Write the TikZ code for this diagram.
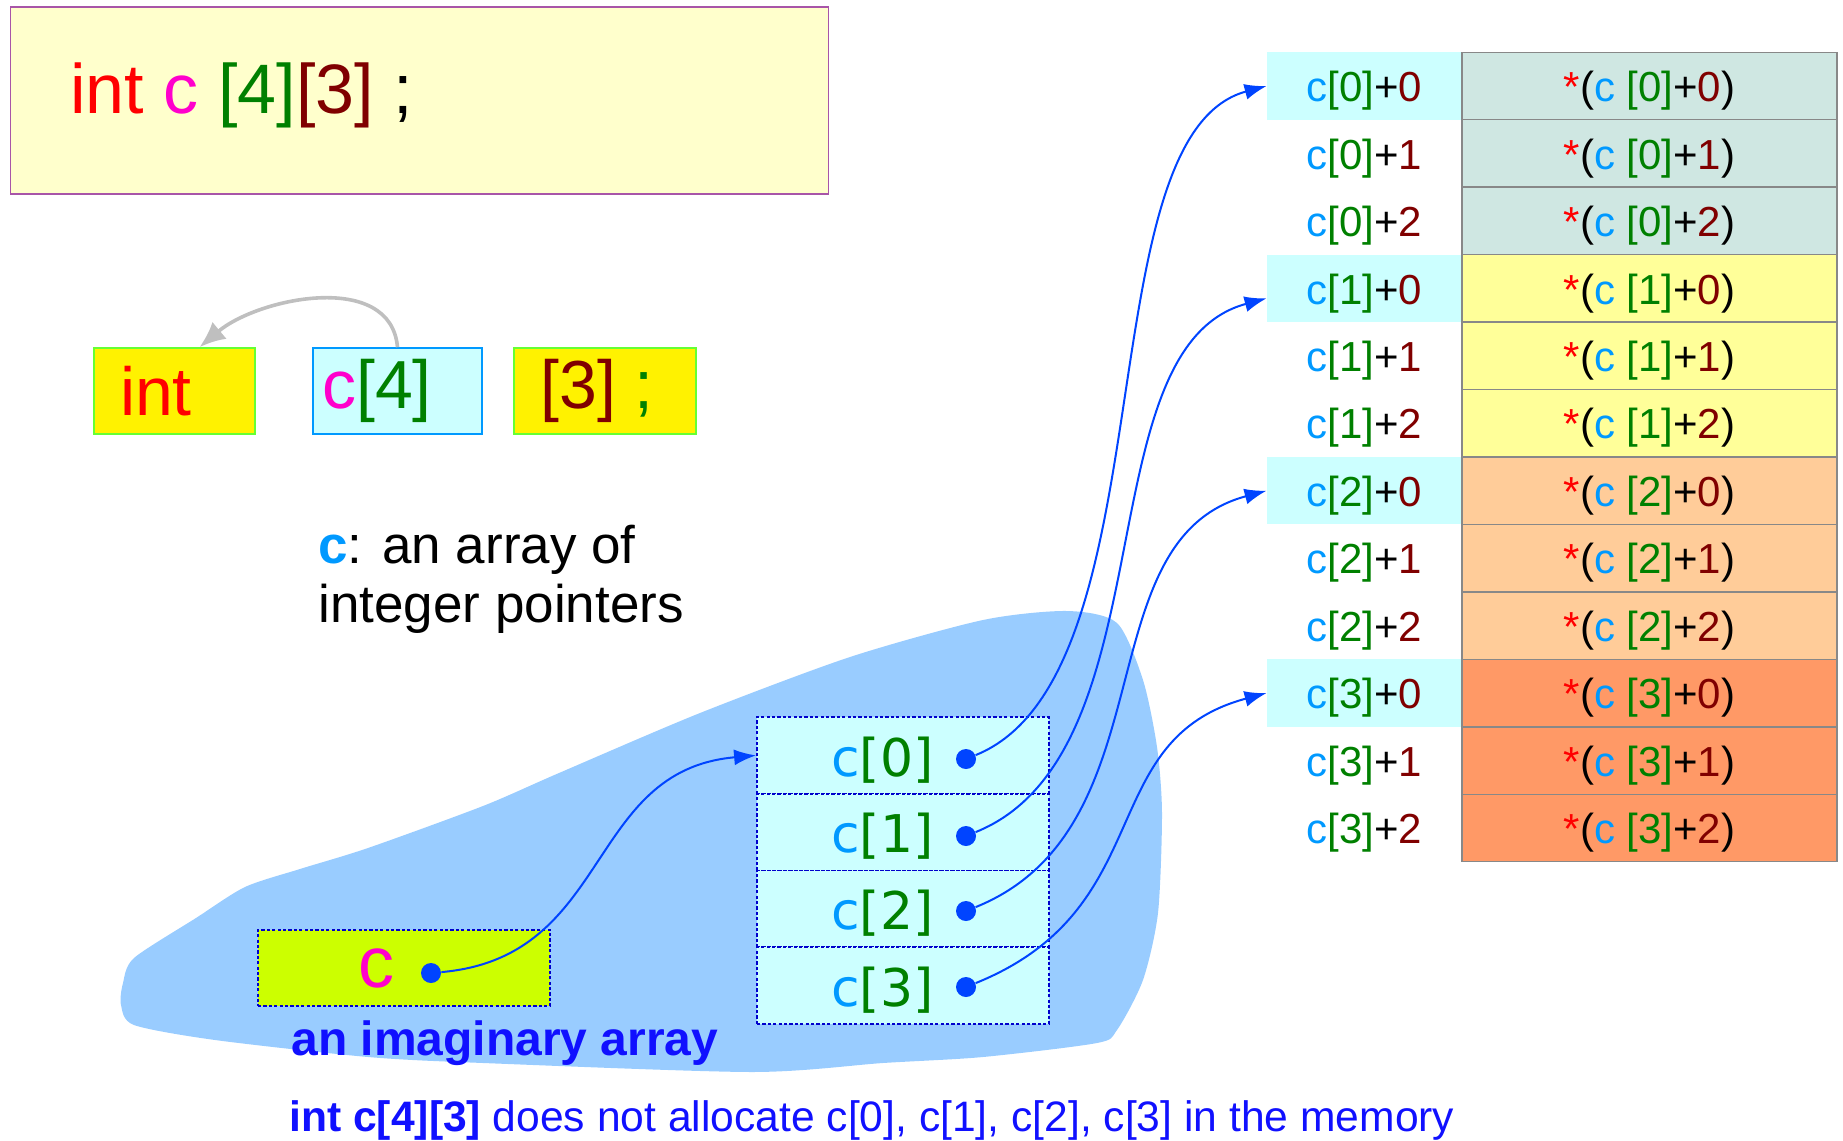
\documentclass[tikz,border=0pt]{standalone}
\usepackage{fontspec}
\setmainfont{Liberation Sans}
\newfontfamily\dejavu{DejaVu Sans}
\usetikzlibrary{arrows.meta}
\definecolor{cblue}{HTML}{0099FF}
\definecolor{cgreen}{HTML}{008000}
\definecolor{cdred}{HTML}{800000}
\definecolor{cred}{HTML}{FF0000}
\definecolor{cmag}{HTML}{FF00CC}
\definecolor{hicyan}{HTML}{CCFFFF}
\definecolor{declfill}{HTML}{FFFFCC}
\definecolor{declline}{HTML}{A855A8}
\definecolor{boxgreen}{HTML}{66FF33}
\definecolor{blobblue}{HTML}{99CCFF}
\definecolor{ptrblue}{HTML}{0044FF}
\definecolor{dotline}{HTML}{0000CC}
\definecolor{cvarfill}{HTML}{CCFF00}
\definecolor{cellgray}{HTML}{888888}
\definecolor{rowA}{HTML}{CFE7E2}
\definecolor{rowB}{HTML}{FFFF99}
\definecolor{rowC}{HTML}{FFCC99}
\definecolor{rowD}{HTML}{FF9966}
\definecolor{noteblue}{HTML}{1010FF}
\newcommand{\addr}[2]{{\color{cblue}c}{\color{cgreen}[#1]}+{\color{cdred}#2}}
\newcommand{\deref}[2]{{\color{cred}*}({\color{cblue}c} {\color{cgreen}[#1]}+{\color{cdred}#2})}
\newcommand{\elem}[1]{{\color{cblue}c}{\color{cgreen}[#1]}\kern20.5pt}

\begin{document}
\begin{tikzpicture}[x=0.5pt, y=-0.5pt,
  declbox/.style = {draw=declline, line width=0.7pt, fill=declfill, minimum width=409pt, minimum height=93.5pt},
  partbox/.style = {line width=0.8pt, minimum height=43pt, inner sep=0pt, font=\fontsize{34}{40}\selectfont},
  elembox/.style = {draw=dotline, line width=0.9pt, dash pattern=on 1.6pt off 1.1pt, fill=hicyan, minimum width=146pt, minimum height=38.4pt, inner sep=0pt, text height=20.6pt, text depth=0pt, font=\dejavu\fontsize{26}{30}\selectfont},
  dot/.style = {circle, fill=ptrblue, minimum size=10pt, inner sep=0pt},
  addr/.style = {minimum width=97.5pt, minimum height=33.7pt, inner sep=0pt, text height=15.7pt, text depth=0pt, font=\fontsize{21}{25}\selectfont},
  val/.style = {draw=cellgray, line width=0.7pt, minimum width=187.5pt, minimum height=33.7pt, inner sep=0pt, text height=15.7pt, text depth=0pt, font=\fontsize{21}{25}\selectfont},
  ptr/.style = {ptrblue, line width=1pt, -{Latex[length=11pt,width=8pt]}}]
\useasboundingbox (0,0) rectangle (1843,1141);
% imaginary array
\fill[blobblue] plot[smooth cycle, tension=0.45] coordinates {(134,958) (196,918) (245,887) (300,869) (368,848) (483,806) (559,773) (700,713) (850,657) (983,620) (1067,611) (1117,623) (1143,680) (1157,747) (1162,813) (1158,913) (1143,980) (1117,1030) (1097,1043) (983,1057) (883,1063) (752,1072) (483,1063) (368,1057) (215,1040) (134,1025) (121,1005) (123,983)};
% declaration
\node[declbox] (decl) at (419.6,100.5) {};
\node[anchor=west, inner sep=0pt, font=\fontsize{35}{42}\selectfont] (decltext) at (70,95) {{\color{cred}int} {\color{cmag}c} {\color{cgreen}[4]}{\color{cdred}[3]} ;};
\node[partbox, draw=boxgreen, fill=yellow, minimum width=80.5pt] (tint) at (174.5,391) {{\color{cred}int}\kern18.5pt};
\node[partbox, draw=cblue, fill=hicyan, minimum width=84.5pt] (tcfour) at (397.5,391) {{\color{cmag}c}{\color{cgreen}[4]}\kern20.5pt};
\node[partbox, draw=boxgreen, fill=yellow, minimum width=91pt] (tthree) at (605,391) {{\color{cdred}[3]} {\color{cgreen};}\kern8pt};
\draw[gray!50, line width=1.8pt, -{Latex[length=13pt,width=11pt]}] (tcfour.north) to[out=95,in=40] ([xshift=12.5pt]tint.north);
\node[anchor=west, inner sep=0pt, align=left, font=\fontsize{26.5}{29.5}\selectfont] (note) at (318,579) {{\bfseries\color{cblue}c}: an array of\\integer pointers};
% c and c[0..3]
\node[partbox, draw=dotline, line width=0.9pt, dash pattern=on 1.6pt off 1.1pt, fill=cvarfill, minimum width=146pt, minimum height=38pt, font=\fontsize{36}{40}\selectfont] (cvar) at (404,968) {{\color{cmag}c}\kern28pt};
\node[dot] (cdot) at (431,973) {};
\node[elembox] (c0) at (903,755.4) {\elem{0}}; \node[elembox] (c1) at (903,832.1) {\elem{1}};
\node[elembox] (c2) at (903,908.9) {\elem{2}}; \node[elembox] (c3) at (903,985.6) {\elem{3}};
\node[dot] (d0) at (966,759) {}; \node[dot] (d1) at (966,836) {}; \node[dot] (d2) at (966,911) {}; \node[dot] (d3) at (966,987) {};
\node[anchor=west, inner sep=0pt, font=\bfseries\fontsize{24}{28}\selectfont, text=noteblue] (imag) at (291,1043.5) {an imaginary array};
% memory
\node[addr, fill=hicyan] (a0) at (1364.5,86) {\addr{0}{0}}; \node[val, fill=rowA] (v0) at (1649.5,86) {\deref{0}{0}};
\node[addr] (a1) at (1364.5,153.45) {\addr{0}{1}}; \node[val, fill=rowA] (v1) at (1649.5,153.45) {\deref{0}{1}};
\node[addr] (a2) at (1364.5,220.9) {\addr{0}{2}}; \node[val, fill=rowA] (v2) at (1649.5,220.9) {\deref{0}{2}};
\node[addr, fill=hicyan] (a3) at (1364.5,288.35) {\addr{1}{0}}; \node[val, fill=rowB] (v3) at (1649.5,288.35) {\deref{1}{0}};
\node[addr] (a4) at (1364.5,355.8) {\addr{1}{1}}; \node[val, fill=rowB] (v4) at (1649.5,355.8) {\deref{1}{1}};
\node[addr] (a5) at (1364.5,423.25) {\addr{1}{2}}; \node[val, fill=rowB] (v5) at (1649.5,423.25) {\deref{1}{2}};
\node[addr, fill=hicyan] (a6) at (1364.5,490.7) {\addr{2}{0}}; \node[val, fill=rowC] (v6) at (1649.5,490.7) {\deref{2}{0}};
\node[addr] (a7) at (1364.5,558.15) {\addr{2}{1}}; \node[val, fill=rowC] (v7) at (1649.5,558.15) {\deref{2}{1}};
\node[addr] (a8) at (1364.5,625.6) {\addr{2}{2}}; \node[val, fill=rowC] (v8) at (1649.5,625.6) {\deref{2}{2}};
\node[addr, fill=hicyan] (a9) at (1364.5,693.05) {\addr{3}{0}}; \node[val, fill=rowD] (v9) at (1649.5,693.05) {\deref{3}{0}};
\node[addr] (a10) at (1364.5,760.5) {\addr{3}{1}}; \node[val, fill=rowD] (v10) at (1649.5,760.5) {\deref{3}{1}};
\node[addr] (a11) at (1364.5,827.95) {\addr{3}{2}}; \node[val, fill=rowD] (v11) at (1649.5,827.95) {\deref{3}{2}};
% pointers
\draw[ptr] (cdot) to[out=5,in=185,looseness=1.15] (c0.west);
\draw[ptr] (d0) to[out=22,in=195,out distance=105pt,in distance=95pt] (a0.west);
\draw[ptr] (d1) to[out=22,in=195,out distance=105pt,in distance=95pt] ([yshift=-5pt]a3.west);
\draw[ptr] (d2) to[out=22,in=195,out distance=105pt,in distance=95pt] (a6.west);
\draw[ptr] (d3) to[out=22,in=195,out distance=100pt,in distance=90pt] (a9.west);
\node[anchor=west, inner sep=0pt, font=\fontsize{21.3}{25}\selectfont, text=noteblue] (memnote) at (289,1120) {\textbf{int c[4][3]} does not allocate c[0], c[1], c[2], c[3] in the memory};
\end{tikzpicture}
\end{document}
